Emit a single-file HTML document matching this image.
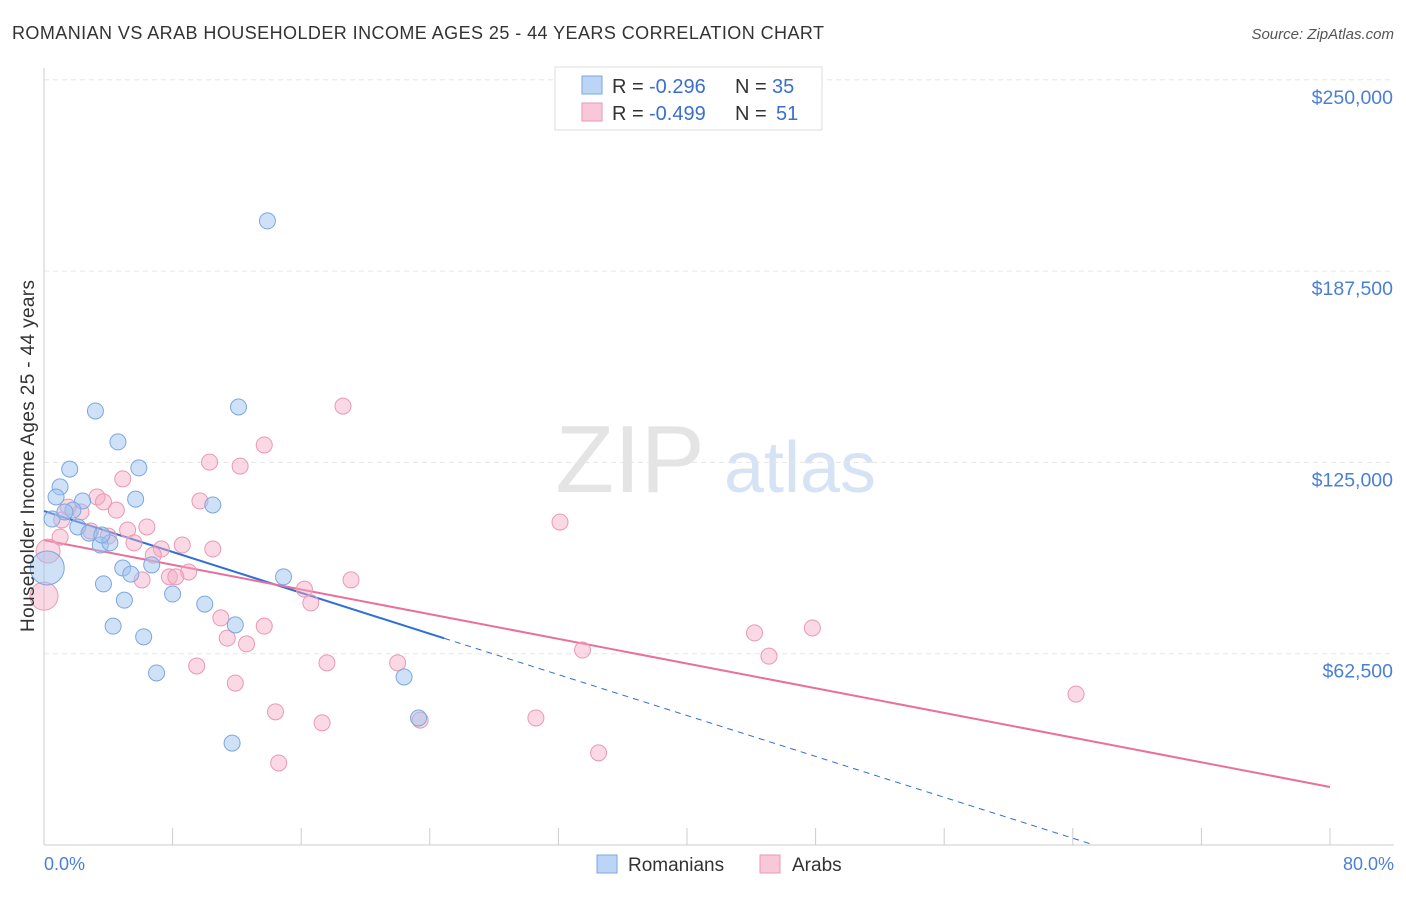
<!DOCTYPE html>
<html><head><meta charset="utf-8"><style>
body{margin:0;background:#fff;font-family:"Liberation Sans",sans-serif;}
svg text{font-family:"Liberation Sans",sans-serif;}
</style></head><body>
<svg id="chart" width="1406" height="892">
<text x="12" y="39" font-size="18" fill="#333" textLength="812">ROMANIAN VS ARAB HOUSEHOLDER INCOME AGES 25 - 44 YEARS CORRELATION CHART</text>
<text x="1394" y="39" font-size="15" fill="#555" font-style="italic" text-anchor="end">Source: ZipAtlas.com</text>
<text x="630" y="492" font-size="96" fill="#e4e4e4" font-family="Liberation Serif" text-anchor="middle">ZIP</text>
<text x="800" y="492" font-size="72" fill="#d6e3f5" text-anchor="middle">atlas</text>
<g id="grid"></g><g id="axes"></g><g id="trends"></g><g id="points"></g>
<text transform="translate(34,456) rotate(-90)" font-size="19" fill="#333" text-anchor="middle" textLength="352">Householder Income Ages 25 - 44 years</text>
<text x="44" y="870" font-size="18" fill="#4a7fd6">0.0%</text>
<text x="1394" y="870" font-size="18" fill="#4a7fd6" text-anchor="end">80.0%</text>
<g>
<rect x="555" y="67" width="267" height="63" fill="#fff" stroke="#ddd"/>
<rect x="582" y="76" width="20" height="18" fill="#bcd4f5" stroke="#7aa7e0"/>
<rect x="582" y="103" width="20" height="18" fill="#f9c8d8" stroke="#eb97b3"/>
<text x="612" y="93" font-size="20" fill="#333">R =</text>
<text x="649" y="93" font-size="20" fill="#3a6fd0">-0.296</text>
<text x="735" y="93" font-size="20" fill="#333">N =</text>
<text x="772" y="93" font-size="20" fill="#3a6fd0">35</text>
<text x="612" y="120" font-size="20" fill="#333">R =</text>
<text x="649" y="120" font-size="20" fill="#3a6fd0">-0.499</text>
<text x="735" y="120" font-size="20" fill="#333">N =</text>
<text x="776" y="120" font-size="20" fill="#3a6fd0">51</text>
</g>
<g><rect x="597" y="855" width="20" height="18" fill="#bcd4f5" stroke="#7aa7e0"/><text x="628" y="871" font-size="19" fill="#333">Romanians</text></g>
<g><rect x="760" y="855" width="20" height="18" fill="#f9c8d8" stroke="#eb97b3"/><text x="792" y="871" font-size="19" fill="#333">Arabs</text></g>
</svg>
<script>
const yTicks=[62500,125000,187500,250000];
const yTickLabels=["$62,500","$125,000","$187,500","$250,000"];
const xTicks=[0,8,16,24,32,40,48,56,64,72,80];
const blueX=[13.9,12.1,3.2,4.6,1.6,5.9,1.0,0.75,5.7,2.4,10.5,1.8,0.5,1.3,2.1,2.8,3.5,4.1,0.2,4.9,6.7,5.4,14.9,3.7,8.0,5.0,10.0,4.3,11.9,6.2,7.0,22.4,23.3,11.7,3.6];
const blueY=[203900,143100,141800,131700,122800,123200,117000,113700,113000,112400,111100,109400,106500,108800,103900,101900,98000,98700,90500,90500,91500,88500,87600,85300,82000,80000,78700,71500,71900,68000,56200,54900,41500,33300,101300];
const blueR=[8,8,8,8,8,8,8,8,8,8,8,8,8,8,8,8,8,8,17,8,8,8,8,8,8,8,8,8,8,8,8,8,8,8,8];
const pinkX=[18.6,13.7,10.3,12.2,4.9,3.3,9.7,3.7,32.1,2.3,4.5,1.5,1.1,2.9,5.2,6.4,1.0,4.0,5.6,8.6,10.5,7.3,6.8,0.25,7.8,6.1,9.0,8.2,19.1,16.2,16.6,0,11.0,13.7,11.4,12.6,44.2,47.8,33.5,45.1,9.5,17.6,22.0,11.9,64.2,14.4,17.3,23.4,30.6,34.5,14.6];
const pinkY=[143400,130700,125100,123800,119600,113700,112400,112100,105500,108800,109400,110400,106200,102600,102900,103900,100600,100900,98700,98000,96700,96700,94700,96000,87600,86600,89200,87600,86600,83600,79100,81300,74200,71500,67600,65700,69300,70900,63700,61700,58500,59500,59500,52900,49300,43500,39900,40800,41500,30100,26800];
const pinkR=[8,8,8,8,8,8,8,8,8,8,8,8,8,8,8,8,8,8,8,8,8,8,8,12,8,8,8,8,8,8,8,14,8,8,8,8,8,8,8,8,8,8,8,8,8,8,8,8,8,8,8];
const blueTrend=[109100,-1670];
const pinkTrend=[99600,-1008];
const NS="http://www.w3.org/2000/svg";
const xs=p=>44+p*1286/80;
const ys=v=>845-v*191.3/62500;
function mk(t,a,parent){const e=document.createElementNS(NS,t);for(const k in a)e.setAttribute(k,a[k]);document.getElementById(parent).appendChild(e);return e;}
yTicks.forEach((v,i)=>{
 const l=mk('line',{x1:44,x2:1394,y1:ys(v),y2:ys(v),stroke:'#e6e6e6','stroke-dasharray':'5,4'},'grid');
 
 
 const t=mk('text',{x:1393,y:ys(v)+24,'font-size':19.5,fill:'#4a7fd6','text-anchor':'end'},'grid');
 t.textContent=yTickLabels[i];
 
 
});
const ax=mk('line',{x1:44,x2:1394,y1:845,y2:845,stroke:'#ccc'},'axes');


const ay=mk('line',{x1:44,x2:44,y1:68,y2:845,stroke:'#ccc'},'axes');


xTicks.forEach(p=>{
 const t=mk('line',{x1:xs(p),x2:xs(p),y1:828,y2:845,stroke:'#ccc'},'axes');
 
 
});
const bEnd=24.9, bZero=-blueTrend[0]/blueTrend[1];
const b1=mk('line',{x1:xs(0),y1:ys(blueTrend[0]),x2:xs(bEnd),y2:ys(blueTrend[0]+blueTrend[1]*bEnd),stroke:'#2f6fd6','stroke-width':2},'trends');


const b2=mk('line',{x1:xs(bEnd),y1:ys(blueTrend[0]+blueTrend[1]*bEnd),x2:xs(bZero),y2:ys(0),stroke:'#2f6fd6','stroke-width':1,'stroke-dasharray':'6,5'},'trends');


const p1=mk('line',{x1:xs(0),y1:ys(pinkTrend[0]),x2:xs(80),y2:ys(pinkTrend[0]+pinkTrend[1]*80),stroke:'#e8709a','stroke-width':2},'trends');


pinkX.forEach((x,i)=>{
 const c=mk('circle',{cx:xs(x),cy:ys(pinkY[i]),r:pinkR[i],fill:'rgba(245,170,195,0.45)',stroke:'#eb97b3','stroke-width':1},'points');
 
 
});
blueX.forEach((x,i)=>{
 const c=mk('circle',{cx:xs(x),cy:ys(blueY[i]),r:blueR[i],fill:'rgba(160,196,240,0.5)',stroke:'#7aa7e0','stroke-width':1},'points');
 
 
});
</script>
</body></html>
